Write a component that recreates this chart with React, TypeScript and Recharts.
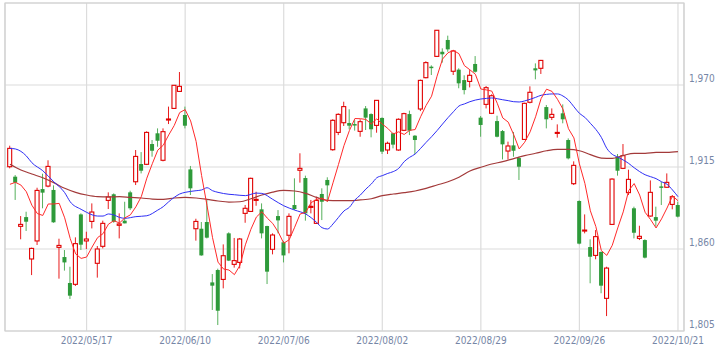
import { ComposedChart, Bar, Line, XAxis, YAxis, CartesianGrid, ReferenceArea } from 'recharts';

// daily candles, 2022/04/21 .. 2022/10/21 (123 sessions)
const open = [
  1915.2, 1908.5, 1875.2, 1881.4, 1853.3, 1865.4, 1900.2, 1902.2, 1899.6, 1861.1,
  1854.6, 1837.2, 1836.3, 1883.2, 1865.4, 1878.5, 1850.4, 1861.8, 1892.6, 1896.7,
  1875.9, 1879.0, 1898.0, 1905.1, 1917.0, 1916.8, 1930.4, 1937.6, 1919.5, 1946.5,
  1954.3, 1965.7, 1949.9, 1913.4, 1873.6, 1873.6, 1878.1, 1837.6, 1845.9, 1839.6,
  1870.5, 1849.7, 1851.0, 1883.9, 1885.2, 1892.6, 1886.6, 1875.4, 1859.8, 1882.1,
  1864.5, 1869.2, 1889.5, 1912.8, 1907.6, 1887.9, 1877.2, 1896.9, 1906.3, 1926.6,
  1938.2, 1944.7, 1944.5, 1943.8, 1938.9, 1954.3, 1950.5, 1942.9, 1947.9, 1926.4,
  1937.6, 1926.4, 1939.6, 1950.5, 1936.0, 1953.9, 1974.9, 1982.3, 1989.2, 1992.3,
  2000.2, 1979.2, 1980.3, 1973.3, 1972.4, 1984.1, 1948.1, 1957.0, 1951.0, 1945.8,
  1939.1, 1925.7, 1929.5, 1921.0, 1933.5, 1958.4, 1981.2, 1981.2, 1955.2, 1948.3,
  1937.8, 1951.0, 1933.1, 1903.8, 1892.2, 1872.3, 1861.3, 1855.7, 1858.0, 1826.9,
  1876.5, 1921.9, 1914.1, 1897.8, 1887.3, 1867.1, 1866.0, 1882.1, 1881.4, 1902.0,
  1901.4, 1889.9, 1889.5,
];
const high = [
  1929.3, 1909.6, 1882.1, 1885.0, 1860.9, 1901.1, 1910.5, 1919.5, 1902.7, 1866.9,
  1859.3, 1848.1, 1867.8, 1883.9, 1871.6, 1890.6, 1862.0, 1879.0, 1898.0, 1897.3,
  1883.9, 1891.7, 1899.1, 1926.4, 1925.0, 1938.9, 1933.1, 1940.9, 1940.9, 1955.5,
  1970.0, 1978.7, 1955.5, 1915.7, 1880.3, 1878.1, 1892.9, 1843.2, 1846.8, 1863.1,
  1871.2, 1867.4, 1867.4, 1889.5, 1907.8, 1898.4, 1890.6, 1875.6, 1870.5, 1886.1,
  1865.4, 1883.9, 1907.4, 1924.2, 1909.2, 1892.9, 1895.1, 1900.7, 1908.1, 1947.0,
  1951.0, 1958.8, 1953.7, 1946.5, 1947.0, 1955.9, 1951.0, 1959.9, 1948.3, 1932.0,
  1938.0, 1947.6, 1951.4, 1952.8, 1936.4, 1973.6, 1985.9, 1983.2, 2006.9, 1994.6,
  2003.1, 1993.5, 1981.2, 1976.5, 1980.0, 1989.4, 1949.2, 1969.3, 1963.7, 1949.4,
  1939.8, 1932.0, 1938.5, 1921.9, 1958.1, 1969.1, 1984.5, 1986.8, 1956.6, 1954.3,
  1943.6, 1957.0, 1934.2, 1918.8, 1892.6, 1883.2, 1866.5, 1872.7, 1858.4, 1848.1,
  1907.4, 1923.7, 1930.4, 1913.2, 1888.4, 1875.6, 1866.5, 1906.0, 1888.4, 1905.1,
  1910.7, 1896.2, 1891.7,
];
const low = [
  1914.1, 1892.9, 1866.5, 1872.1, 1842.5, 1862.7, 1887.3, 1901.4, 1877.6, 1840.1,
  1845.5, 1826.5, 1835.2, 1859.3, 1860.0, 1873.8, 1840.8, 1860.4, 1886.8, 1877.6,
  1867.1, 1877.2, 1886.1, 1902.9, 1910.7, 1916.3, 1921.9, 1928.6, 1918.8, 1943.8,
  1953.9, 1965.3, 1940.9, 1896.2, 1865.6, 1855.5, 1867.1, 1819.1, 1809.0, 1833.6,
  1851.9, 1847.5, 1847.0, 1877.6, 1884.8, 1889.0, 1867.1, 1836.5, 1856.4, 1870.5,
  1851.0, 1857.1, 1886.1, 1904.5, 1879.0, 1883.9, 1876.8, 1879.4, 1891.7, 1925.9,
  1936.4, 1942.5, 1940.3, 1939.4, 1935.3, 1939.8, 1934.9, 1938.0, 1923.7, 1923.7,
  1927.5, 1925.9, 1939.1, 1936.4, 1923.7, 1952.5, 1974.5, 1976.7, 1988.8, 1985.0,
  1992.3, 1976.7, 1967.8, 1963.7, 1968.4, 1978.3, 1935.3, 1954.3, 1950.5, 1934.9,
  1920.1, 1920.1, 1921.9, 1906.3, 1933.1, 1957.7, 1973.8, 1977.4, 1940.9, 1946.5,
  1934.7, 1944.3, 1920.1, 1902.9, 1863.1, 1870.5, 1837.0, 1853.1, 1830.3, 1815.0,
  1876.1, 1909.2, 1913.6, 1896.2, 1867.1, 1866.0, 1853.7, 1881.7, 1875.0, 1889.5,
  1901.1, 1886.6, 1881.2,
];
const close = [
  1927.5, 1904.5, 1876.5, 1878.3, 1860.4, 1899.3, 1897.8, 1915.4, 1877.9, 1862.4,
  1851.0, 1828.7, 1863.6, 1862.9, 1866.7, 1884.8, 1860.0, 1877.2, 1894.9, 1878.3,
  1876.8, 1877.2, 1887.3, 1922.1, 1912.5, 1938.2, 1925.9, 1932.6, 1938.7, 1947.2,
  1969.8, 1969.1, 1942.7, 1900.7, 1878.5, 1855.7, 1867.6, 1835.4, 1818.6, 1855.5,
  1852.2, 1852.2, 1866.7, 1887.3, 1907.4, 1893.3, 1870.5, 1844.8, 1869.4, 1879.2,
  1855.7, 1881.9, 1886.8, 1914.1, 1883.9, 1888.6, 1892.6, 1891.7, 1902.7, 1946.3,
  1950.3, 1955.5, 1942.7, 1942.9, 1945.4, 1948.1, 1940.3, 1959.7, 1925.3, 1930.9,
  1930.0, 1947.0, 1950.8, 1939.4, 1933.1, 1973.1, 1985.0, 1981.8, 2006.7, 1990.6,
  1993.9, 1992.8, 1971.1, 1966.6, 1976.5, 1978.9, 1943.2, 1968.2, 1962.8, 1935.3,
  1930.2, 1929.1, 1925.9, 1915.2, 1957.7, 1965.1, 1979.8, 1986.5, 1947.0, 1950.3,
  1938.2, 1947.0, 1920.8, 1916.1, 1863.6, 1872.7, 1854.8, 1868.3, 1835.4, 1847.2,
  1906.9, 1912.5, 1922.6, 1906.7, 1870.9, 1868.5, 1854.2, 1898.0, 1879.0, 1901.4,
  1904.7, 1895.1, 1881.7,
];

// moving averages (5 / 25 / 75 day)
const ma5 = [
  1903.4, 1904.7, 1902.9, 1898.4, 1889.4, 1883.8, 1882.5, 1890.2, 1890.2, 1890.6,
  1880.9, 1867.1, 1856.7, 1853.7, 1854.6, 1861.3, 1867.6, 1870.3, 1876.7, 1879.0,
  1877.4, 1880.9, 1882.9, 1888.3, 1895.2, 1907.5, 1917.2, 1926.3, 1929.6, 1936.5,
  1942.8, 1951.5, 1953.5, 1945.9, 1932.2, 1909.3, 1889.0, 1867.6, 1851.2, 1846.6,
  1845.9, 1842.8, 1849.0, 1862.8, 1873.2, 1881.4, 1885.0, 1880.7, 1877.1, 1871.4,
  1863.9, 1866.2, 1874.6, 1883.5, 1884.5, 1891.1, 1893.2, 1894.2, 1891.9, 1904.4,
  1916.7, 1929.3, 1939.5, 1947.5, 1947.4, 1946.9, 1943.9, 1947.3, 1943.8, 1940.9,
  1937.2, 1938.6, 1936.8, 1939.6, 1940.1, 1948.7, 1956.3, 1962.5, 1975.9, 1987.4,
  1991.6, 1993.2, 1991.0, 1983.0, 1980.2, 1977.2, 1967.3, 1966.7, 1965.9, 1957.7,
  1947.9, 1945.1, 1936.7, 1927.1, 1931.6, 1938.6, 1948.7, 1960.9, 1967.2, 1965.7,
  1960.4, 1953.8, 1940.7, 1934.5, 1917.1, 1904.0, 1885.6, 1875.1, 1859.0, 1855.7,
  1862.5, 1874.1, 1884.9, 1899.2, 1903.9, 1896.2, 1884.6, 1879.7, 1874.1, 1880.2,
  1887.5, 1895.6, 1892.4,
];
const ma25 = [
  1927.5, 1927.1, null, 1922.4, 1917.9, null, 1912.5, null, 1905.1, null,
  1897.8, 1891.7, null, 1886.6, 1884.6, null, 1882.1, 1882.1, 1883.5, 1882.8,
  1881.2, 1880.6, null, 1881.7, null, 1882.3, null, 1886.1, 1888.4, 1891.7,
  1894.6, 1896.9, 1898.0, null, 1899.1, 1899.6, 1901.1, 1899.1, 1898.0, null,
  1896.7, 1896.4, null, 1895.8, null, 1897.5, 1897.3, null, 1893.3, null,
  1889.0, null, 1886.1, null, 1883.5, null, 1877.9, 1874.3, 1873.4, 1876.8,
  1881.2, 1885.5, 1888.0, 1892.9, 1896.2, 1900.2, 1903.6, 1907.8, 1909.2, 1910.7,
  1911.9, 1914.1, 1918.6, 1921.5, 1923.7, 1927.5, 1931.5, 1935.3, 1939.4, 1943.8,
  1948.1, 1952.1, 1955.9, 1957.3, 1958.8, 1959.9, 1960.6, 1961.0, 1961.3, 1960.8,
  1960.1, 1959.5, 1958.8, 1958.6, 1959.3, 1960.4, 1961.7, 1963.1, 1963.7, 1964.0,
  1964.0, 1962.6, 1959.9, 1955.4, 1951.0, 1948.3, 1944.3, 1940.2, 1934.9, 1927.5,
  1923.5, 1921.7, 1919.7, 1917.4, 1914.5, 1911.9, 1909.8, 1908.5, 1907.2, 1905.1,
  1903.4, 1899.6, 1895.1,
];
const ma75 = [
  1916.8, null, 1913.0, null, 1910.3, null, 1907.8, null, 1904.5, null,
  1900.7, null, 1898.0, null, 1896.2, null, 1895.1, null, 1894.9, null,
  1895.1, null, 1894.6, null, 1894.2, null, 1893.5, null, 1893.3, null,
  1894.2, null, 1894.6, null, 1894.2, null, 1893.3, null, 1892.2, null,
  1891.5, null, 1891.7, null, 1893.7, null, 1896.2, null, 1898.2, null,
  1899.3, null, 1898.9, null, 1897.3, null, 1894.6, null, 1892.6, null,
  1892.4, null, 1892.4, null, 1892.9, null, 1893.7, null, 1895.8, null,
  1896.9, null, 1897.8, null, 1898.9, null, 1900.7, null, 1902.9, null,
  1905.1, null, 1908.1, null, 1912.3, null, 1914.8, null, 1917.0, null,
  1918.6, null, 1920.6, null, 1922.6, null, 1924.2, null, 1925.9, null,
  1926.8, null, 1926.8, null, 1925.9, null, 1923.3, null, 1921.0, null,
  1920.8, null, 1922.8, null, 1924.2, null, 1924.2, null, 1924.8, null,
  1924.8, null, 1925.3,
];

const tickIndex = [14, 32, 50, 68, 86, 104, 122];
const tickLabels = ['2022/05/17', '2022/06/10', '2022/07/06', '2022/08/02', '2022/08/29', '2022/09/26', '2022/10/21'];
const priceTicks = [1805, 1860, 1915, 1970, 2025];

const data = close.map((c, i) => ({
  idx: i,
  open: open[i],
  high: high[i],
  low: low[i],
  close: c,
  ma5: ma5[i],
  ma25: ma25[i],
  ma75: ma75[i],
}));

const labelFont = "'DejaVu Sans Condensed', 'Liberation Sans', sans-serif";
const labelColor = '#7686a6';

const Candle = (props: any) => {
  const { x, y, width, height, payload } = props;
  if (!payload) return null;
  const { open: o, close: c, high: h, low: l } = payload;
  const top = Math.min(y, y + height);
  const hgt = Math.abs(height);
  const span = h - l || 1;
  const py = (v: number) => top + ((h - v) / span) * hgt;
  const up = c >= o;
  const cx = x + width / 2;
  const bTop = py(Math.max(o, c));
  const bBot = py(Math.min(o, c));
  if (up) {
    return (
      <g>
        <line x1={cx} x2={cx} y1={top} y2={top + hgt} stroke="#e81c1c" strokeWidth={1} />
        <rect x={x + 0.5} y={bTop} width={width - 1} height={Math.max(bBot - bTop, 1)} fill="#ffffff" stroke="#e00000" strokeWidth={1.1} />
      </g>
    );
  }
  return (
    <g>
      <line x1={cx} x2={cx} y1={top} y2={top + hgt} stroke="#56b05c" strokeWidth={1} />
      <rect x={x + 0.5} y={bTop} width={width - 1} height={Math.max(bBot - bTop, 1.5)} fill="#2e9a3a" />
    </g>
  );
};

const XTick = (props: any) => {
  const { x, y, payload } = props;
  const k = tickIndex.indexOf(payload.value);
  return (
    <text x={x} y={y + 12.5} textAnchor="middle" fontSize={10} fontFamily={labelFont} fill={labelColor}>
      {k >= 0 ? tickLabels[k] : ''}
    </text>
  );
};

const YTick = (props: any) => {
  const { x, y, payload } = props;
  if (payload.value === 2025) return null;
  return (
    <text x={x + 5} y={y - 3} textAnchor="start" fontSize={10} fontFamily={labelFont} fill={labelColor}>
      {payload.value.toLocaleString('en-US')}
    </text>
  );
};

export default function App() {
  return (
    <div style={{ position: 'absolute', left: 0, top: 0, width: 720, height: 351, background: '#fff' }}>
      <ComposedChart width={720} height={351} data={data} margin={{ top: 3, right: 0, left: 5, bottom: 0 }}>
        <CartesianGrid stroke="#dcdcdc" strokeWidth={1.2} />
        <XAxis
          dataKey="idx"
          type="number"
          domain={[-0.9, 123.1]}
          ticks={tickIndex}
          interval={0}
          height={20}
          axisLine={false}
          tickLine={false}
          tickSize={0}
          tickMargin={0}
          tick={<XTick />}
          allowDataOverflow
        />
        <YAxis
          orientation="right"
          domain={[1805, 2025]}
          ticks={priceTicks}
          width={36}
          axisLine={false}
          tickLine={false}
          tickSize={0}
          tickMargin={0}
          tick={<YTick />}
          allowDataOverflow
        />
        <ReferenceArea x1={-0.9} x2={123.1} y1={1805} y2={2025} fill="none" stroke="#d0d0d0" strokeWidth={1.2} ifOverflow="visible" />
        <Bar dataKey={(d: any) => [d.low, d.high]} barSize={5} shape={<Candle />} isAnimationActive={false} />
        <Line type="monotone" dataKey="ma75" stroke="#a33a3a" strokeWidth={1.2} dot={false} connectNulls isAnimationActive={false} />
        <Line type="monotone" dataKey="ma25" stroke="#2f2ff5" strokeWidth={1} dot={false} connectNulls isAnimationActive={false} />
        <Line type="linear" dataKey="ma5" stroke="#ff2a2a" strokeWidth={1} dot={false} isAnimationActive={false} />
      </ComposedChart>
    </div>
  );
}
